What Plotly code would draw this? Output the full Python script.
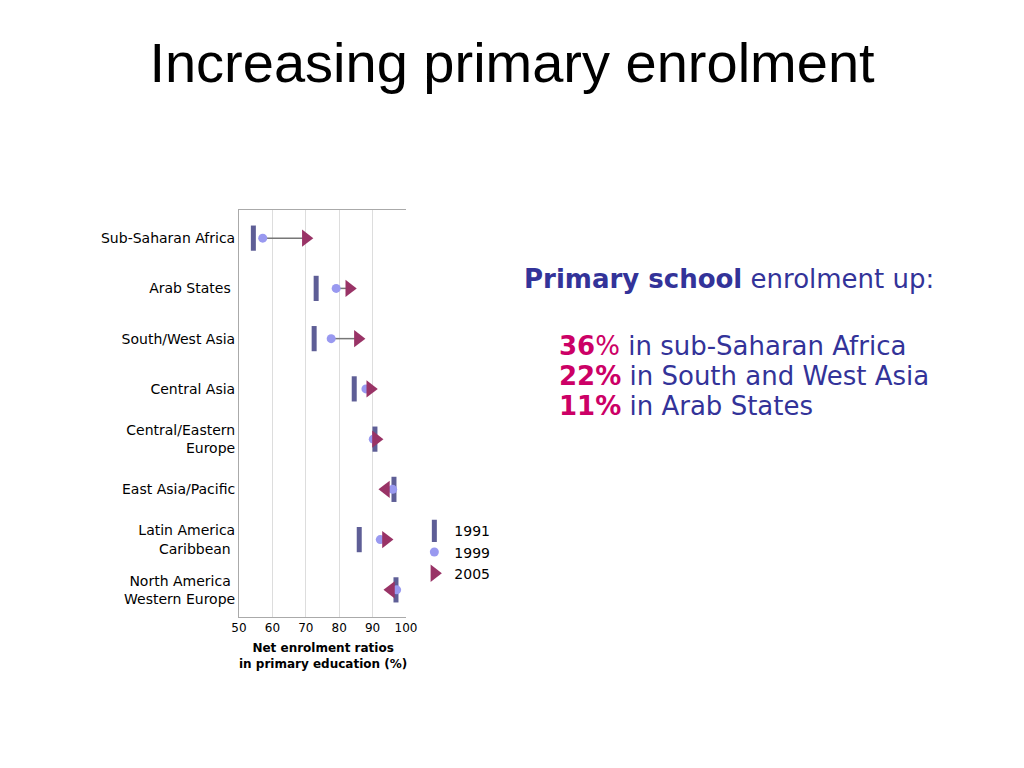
import plotly.graph_objects as go

regions = ["Sub-Saharan Africa", "Arab States ", "South/West Asia", "Central Asia",
           "Central/Eastern<br>Europe", "East Asia/Pacific", "Latin America<br>Caribbean ",
           "North America <br>Western Europe"]
v1991 = [54.3, 73.1, 72.5, 84.5, 90.7, 96.4, 86.0, 97.0]
v1999 = [57.1, 79.1, 77.6, 88.0, 90.2, 96.0, 92.3, 97.2]
v2005 = [70.0, 83.0, 85.6, 89.3, 91.0, 94.0, 94.0, 95.5]
xticks = [50, 60, 70, 80, 90, 100]

ys = list(range(len(regions)))
fig = go.Figure()
for y, a, b in zip(ys, v1999, v2005):
    fig.add_trace(go.Scatter(x=[a, b], y=[y, y], mode="lines", line=dict(color="#777777", width=1.5),
                             showlegend=False, hoverinfo="skip"))
fig.add_trace(go.Scatter(x=v1991, y=ys, mode="markers", name="1991",
                         marker=dict(symbol="line-ns", size=18, line=dict(width=5, color="#5E5E96"))))
fig.add_trace(go.Scatter(x=v1999, y=ys, mode="markers", name="1999",
                         marker=dict(symbol="circle", size=9, color="#9999F0")))
syms = ["triangle-right" if b >= a else "triangle-left" for a, b in zip(v1999, v2005)]
fig.add_trace(go.Scatter(x=v2005, y=ys, mode="markers", name="2005",
                         marker=dict(symbol=syms, size=15, color="#993366")))

fig.update_layout(
    width=1024, height=768, paper_bgcolor="white", plot_bgcolor="white",
    margin=dict(l=231, r=626, t=202, b=159),
    font=dict(family="DejaVu Sans", color="black", size=12),
    xaxis=dict(range=[50, 100], tickvals=xticks, showgrid=True, gridcolor="#DDDDDD",
               showline=True, linecolor="#AAAAAA", mirror=True, ticks="", zeroline=False,
               tickfont=dict(size=12)),
    yaxis=dict(range=[7.54, -0.56], tickvals=ys, ticktext=regions, showgrid=False,
               zeroline=False, ticks="", tickfont=dict(size=14), showline=True, linecolor="#AAAAAA"),
    legend=dict(x=1.05, y=0.25, xanchor="left", yanchor="top", font=dict(size=14),
                bgcolor="rgba(0,0,0,0)", tracegroupgap=2),
    title=dict(text="Increasing primary enrolment", x=504/1024, xanchor="center", y=1-54/768,
               yanchor="middle", font=dict(family="Liberation Sans", size=56, color="black")),
)
fig.add_annotation(xref="paper", yref="paper", x=0.5, y=-0.055, yanchor="top", showarrow=False,
                   text="<b>Net enrolment ratios<br>in primary education (%)</b>", font=dict(size=12))

def px(x):
    return (x - 8 - 231) / 167
def py(y):
    return (617 - y) / 407

blue = "#333399"; pink = "#CC0066"
fig.add_annotation(xref="paper", yref="paper", x=px(522), y=py(279), xanchor="left", yanchor="middle",
                   showarrow=False, font=dict(size=26, color=blue),
                   text="<b>Primary school</b> enrolment up:")
lines = [(346, "<b>36</b>%", " in sub-Saharan Africa"),
         (376, "<b>22%</b>", " in South and West Asia"),
         (406, "<b>11%</b>", " in Arab States")]
for y, a, b in lines:
    fig.add_annotation(xref="paper", yref="paper", x=px(557), y=py(y), xanchor="left", yanchor="middle",
                       showarrow=False, font=dict(size=26, color=blue),
                       text=f"<span style='color:{pink}'>{a}</span>{b}")

fig.write_html("out.html")
